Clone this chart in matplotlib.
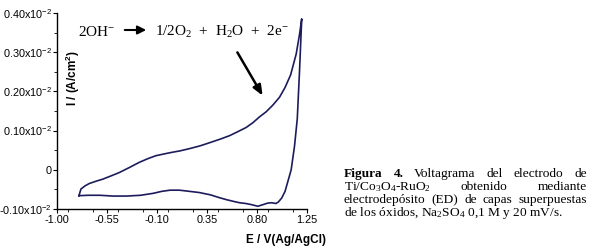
import matplotlib
matplotlib.use("Agg")
import matplotlib.pyplot as plt
from matplotlib.ticker import FuncFormatter, MultipleLocator

plt.rcParams['font.family'] = ['Liberation Sans', 'DejaVu Sans']
plt.rcParams['mathtext.default'] = 'regular'
plt.rcParams['axes.unicode_minus'] = False

# potential (V vs Ag/AgCl) and current density (x10^-2 A/cm2)
e_forward = [-0.805, -0.787, -0.75, -0.712, -0.65, -0.592, -0.52, -0.442, -0.35,
             -0.262, -0.18, -0.112, -0.03, 0.04, 0.10, 0.19, 0.284, 0.37, 0.464,
             0.55, 0.63, 0.70, 0.76, 0.82, 0.88, 0.94, 1.00, 1.05, 1.10, 1.15,
             1.18, 1.20]
i_forward = [-0.066, -0.049, -0.041, -0.035, -0.029, -0.024, -0.016, -0.007, 0.006,
             0.019, 0.029, 0.036, 0.041, 0.045, 0.048, 0.054, 0.061, 0.069, 0.078,
             0.087, 0.098, 0.108, 0.120, 0.135, 0.148, 0.165, 0.185, 0.210, 0.242,
             0.295, 0.345, 0.385]

e_reverse = [1.20, 1.18, 1.16, 1.135, 1.105, 1.075, 1.05, 1.02, 0.99, 0.968, 0.93,
             0.893, 0.85, 0.805, 0.75, 0.698, 0.64, 0.578, 0.52, 0.458, 0.38, 0.278,
             0.19, 0.10, 0.015, -0.06, -0.136, -0.25, -0.376, -0.50, -0.616, -0.72,
             -0.805]
i_reverse = [0.385, 0.25, 0.13, 0.06, 0.0, -0.03, -0.055, -0.072, -0.082, -0.086,
             -0.084, -0.085, -0.089, -0.093, -0.089, -0.086, -0.084, -0.080, -0.076,
             -0.071, -0.064, -0.058, -0.055, -0.052, -0.052, -0.055, -0.060, -0.065,
             -0.067, -0.067, -0.065, -0.065, -0.066]

x_ticks = [-1.00, -0.55, -0.10, 0.35, 0.80, 1.25]
y_ticks = [-0.10, 0.0, 0.10, 0.20, 0.30, 0.40]

fig = plt.figure(figsize=(5.9, 2.5), dpi=100)
ax = fig.add_axes([0.0971, 0.164, 0.4237, 0.784])

line_color = '#1c1c5c'
ax.plot(e_forward + e_reverse, i_forward + i_reverse, color=line_color, lw=1.2)

ax.set_xlim(-1.00, 1.25)
ax.set_ylim(-0.10, 0.40)
ax.set_xticks(x_ticks)
ax.set_yticks(y_ticks)
ax.xaxis.set_minor_locator(MultipleLocator(0.225))
ax.yaxis.set_minor_locator(MultipleLocator(0.05))


def y_fmt(v, pos):
    if abs(v) < 1e-9:
        return "0"
    return f"{v:.2f}x10$^{{-2}}$"


ax.yaxis.set_major_formatter(FuncFormatter(y_fmt))
ax.xaxis.set_major_formatter(FuncFormatter(lambda v, p: f"{v:.2f}"))

for s in ['top', 'right']:
    ax.spines[s].set_visible(False)
for s in ['left', 'bottom']:
    ax.spines[s].set_linewidth(1.0)
ax.tick_params(which='major', direction='out', length=3, width=0.8, labelsize=7.8, pad=1)
ax.tick_params(which='minor', direction='out', length=2, width=0.6)

# axis labels
fig.text(73 / 590, 1 - 78 / 250, "I / (A/cm$^2$)", rotation=90, fontsize=8.5,
         fontweight='bold', ha='center', va='center')
fig.text(326 / 590, 1 - 240 / 250, "E / V(Ag/AgCl)", fontsize=8.5,
         fontweight='bold', ha='right', va='center')

# reaction annotation
serif = ['Liberation Serif', 'DejaVu Serif']
fig.text(78 / 590, 1 - 32 / 250, "2OH$^{-}$", family=serif, fontsize=11, va='center')
fig.text(155 / 590, 1 - 32 / 250, "1/2O$_2$  +  H$_2$O  +  2e$^{-}$", family=serif,
         fontsize=11, va='center')
fig.add_artist(matplotlib.patches.FancyArrowPatch(
    (122 / 590, 1 - 30 / 250), (149 / 590, 1 - 30 / 250), transform=fig.transFigure,
    arrowstyle='-|>,head_length=5,head_width=2.5', color='black', lw=1.5))
fig.add_artist(matplotlib.patches.FancyArrowPatch(
    (236 / 590, 1 - 50 / 250), (264 / 590, 1 - 98 / 250), transform=fig.transFigure,
    arrowstyle='-|>,head_length=6,head_width=2.5', color='black', lw=1.8))

# caption, justified lines
cap_lines = [
    [("Figura", 'bold'), ("4.", 'bold'), ("Voltagrama", 'normal'), ("del", 'normal'),
     ("electrodo", 'normal'), ("de", 'normal')],
    [("Ti/Co$_3$O$_4$-RuO$_2$", 'normal'), ("obtenido", 'normal'), ("mediante", 'normal')],
    [("electrodepósito", 'normal'), ("(ED)", 'normal'), ("de", 'normal'),
     ("capas", 'normal'), ("superpuestas", 'normal')],
    [("de los óxidos, Na$_2$SO$_4$ 0,1 M y 20 mV/s.", 'normal')],
]
cap_y = [173, 186, 199, 212]
x_left, x_right = 344, 587
renderer = fig.canvas.get_renderer()
for words, yy in zip(cap_lines, cap_y):
    texts = []
    for w, wt in words:
        t = fig.text(x_left / 590, 1 - yy / 250, w, family=serif, fontsize=9.6,
                     fontweight=wt, va='baseline', ha='left')
        texts.append(t)
    if len(texts) > 1:
        widths = [t.get_window_extent(renderer).width for t in texts]
        size = 9.6
        while (x_right - x_left - sum(widths)) / (len(texts) - 1) < 2.5 and size > 8:
            size -= 0.2
            for t in texts:
                t.set_fontsize(size)
            widths = [t.get_window_extent(renderer).width for t in texts]
        gap = (x_right - x_left - sum(widths)) / (len(texts) - 1)
        xpos = x_left
        for t, w in zip(texts, widths):
            t.set_x(xpos / 590)
            xpos += w + gap
    for t in texts:
        t.set_y(1 - (yy + 4) / 250)

fig.savefig("out.png", dpi=100)
